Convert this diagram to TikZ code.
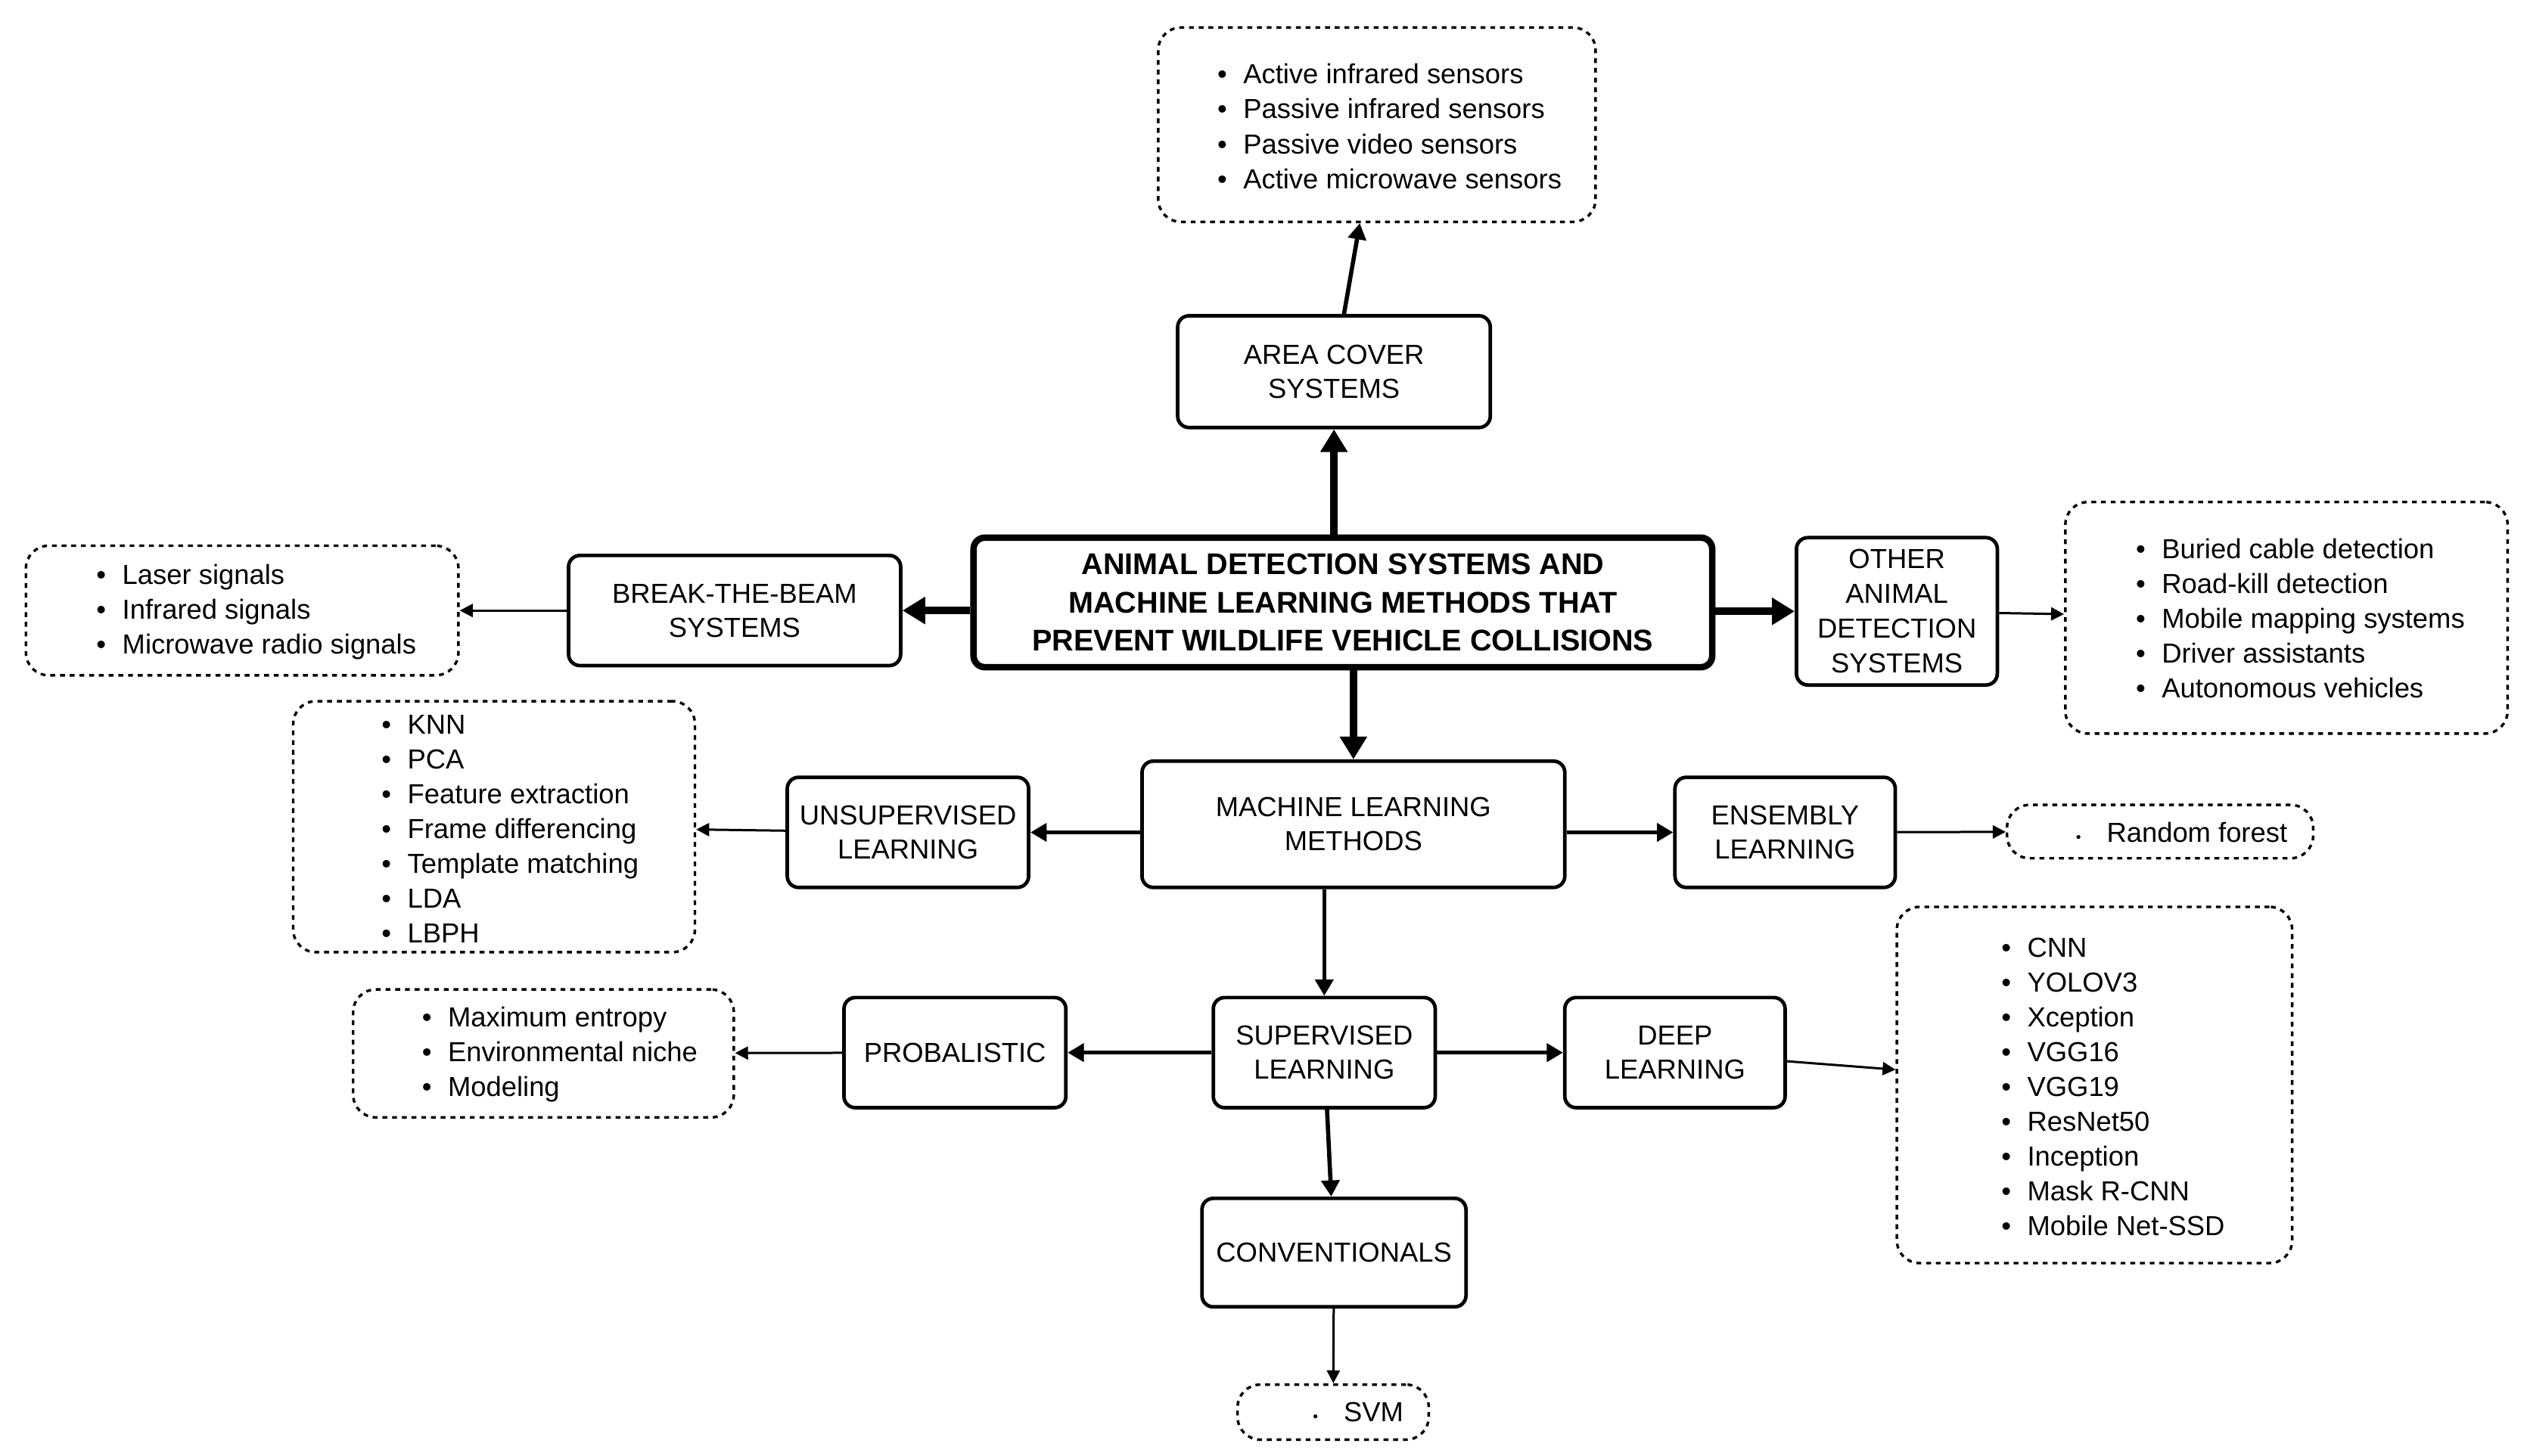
\documentclass[tikz,border=0pt]{standalone}
\usepackage{fontspec}
\setmainfont{Liberation Sans}
\usetikzlibrary{arrows.meta}
\newcommand{\bu}{\makebox[16pt][l]{\textbullet}}
\begin{document}
\begin{tikzpicture}[x=1pt,y=-1pt,
  box/.style={draw,rounded corners=7pt,line width=2.2pt,align=center,font=\fontsize{17}{21}\selectfont,inner sep=0pt},
  lst/.style={draw,dashed,rounded corners=14pt,line width=1.6pt,align=left,font=\fontsize{17}{21.5}\selectfont,inner sep=0pt},
  thick5/.style={line width=4.5pt,-{Triangle[length=14pt,width=16pt]}},
  med/.style={line width=2.6pt,-{Triangle[length=10pt,width=11pt]}},
  thin/.style={line width=1.4pt,-{Triangle[length=8pt,width=8pt]}}]
\useasboundingbox (0,0) rectangle (1560,899);
\newcommand{\bx}[6][box]{\node[#1,minimum width=#4-#2,minimum height=#5-#3] (#6) at ({(#2+#4)/2},{(#3+#5)/2}) {};}
% boxes
\bx{727}{195}{920}{264}{area}\node[font=\fontsize{17}{21}\selectfont,align=center] at (area) {AREA COVER\\SYSTEMS};
\node[box,line width=4pt,minimum width=456,minimum height=80] (c) at (829,372) {};
\node[font=\bfseries\fontsize{18.5}{23.5}\selectfont,align=center] at (c) {ANIMAL DETECTION SYSTEMS AND\\MACHINE LEARNING METHODS THAT\\PREVENT WILDLIFE VEHICLE COLLISIONS};
\bx{351}{343}{556}{411}{btb}\node[font=\fontsize{17}{21}\selectfont,align=center] at (btb) {BREAK-THE-BEAM\\SYSTEMS};
\bx{1109}{332}{1233}{423}{oth}\node[font=\fontsize{17}{21.5}\selectfont,align=center] at (oth) {OTHER\\ANIMAL\\DETECTION\\SYSTEMS};
\bx{705}{470}{966}{548}{ml}\node[font=\fontsize{17}{21}\selectfont,align=center] at (ml) {MACHINE LEARNING\\METHODS};
\bx{486}{480}{635}{548}{uns}\node[font=\fontsize{17}{21}\selectfont,align=center] at (uns) {UNSUPERVISED\\LEARNING};
\bx{1034}{480}{1170}{548}{ens}\node[font=\fontsize{17}{21}\selectfont,align=center] at (ens) {ENSEMBLY\\LEARNING};
\bx{749}{616}{886}{684}{sup}\node[font=\fontsize{17}{21}\selectfont,align=center] at (sup) {SUPERVISED\\LEARNING};
\bx{521}{616}{658}{684}{prob}\node[font=\fontsize{17}{21}\selectfont] at (prob) {PROBALISTIC};
\bx{966}{616}{1102}{684}{deep}\node[font=\fontsize{17}{21}\selectfont,align=center] at (deep) {DEEP\\LEARNING};
\bx{742}{740}{905}{807}{conv}\node[font=\fontsize{17}{21}\selectfont] at (conv) {CONVENTIONALS};
% lists
\bx[lst]{715}{17}{985}{137}{l1}\node[font=\fontsize{17}{21.5}\selectfont,align=left,anchor=west] at (748,78) {\bu Active infrared sensors\\\bu Passive infrared sensors\\\bu Passive video sensors\\\bu Active microwave sensors};
\bx[lst]{16}{337}{283}{417}{l2}\node[font=\fontsize{17}{21.5}\selectfont,align=left,anchor=west] at (56,378) {\bu Laser signals\\\bu Infrared signals\\\bu Microwave radio signals};
\bx[lst]{1275}{310}{1548}{453}{l3}\node[font=\fontsize{17}{21.5}\selectfont,align=left,anchor=west] at (1315,382) {\bu Buried cable detection\\\bu Road-kill detection\\\bu Mobile mapping systems\\\bu Driver assistants\\\bu Autonomous vehicles};
\bx[lst]{181}{433}{429}{588}{l4}\node[font=\fontsize{17}{21.5}\selectfont,align=left,anchor=west] at (232,512) {\bu KNN\\\bu PCA\\\bu Feature extraction\\\bu Frame differencing\\\bu Template matching\\\bu LDA\\\bu LBPH};
\bx[lst]{1239}{497}{1428}{530}{l5}\node[font=\fontsize{17}{21}\selectfont,anchor=west] at (1278,514) {\makebox[19pt][l]{\small\textbullet}Random forest};
\bx[lst]{218}{611}{453}{690}{l6}\node[font=\fontsize{17}{21.5}\selectfont,align=left,anchor=west] at (257,651) {\bu Maximum entropy\\\bu Environmental niche\\\bu Modeling};
\bx[lst]{1171}{560}{1415}{780}{l7}\node[font=\fontsize{17}{21.5}\selectfont,align=left,anchor=west] at (1232,671) {\bu CNN\\\bu YOLOV3\\\bu Xception\\\bu VGG16\\\bu VGG19\\\bu ResNet50\\\bu Inception\\\bu Mask R-CNN\\\bu Mobile Net-SSD};
\bx[lst]{764}{855}{882}{889}{l8}\node[font=\fontsize{17}{21}\selectfont,anchor=west] at (807,872) {\makebox[19pt][l]{\small\textbullet}SVM};
% connectors
\draw[thick5] (c.north -| area) -- (area.south);
\draw[med] (area) -- (l1);
\draw[thick5] (c.west |- btb) -- (btb.east);
\draw[thin] (btb) -- (l2);
\draw[thick5] (c.east |- oth) -- (oth.west);
\draw[thin] (oth) -- (l3);
\draw[thick5] (c.south -| ml) -- (ml.north);
\draw[med] (ml.west |- uns) -- (uns.east);
\draw[thin] (uns) -- (l4);
\draw[med] (ml.east |- ens) -- (ens.west);
\draw[thin] (ens) -- (l5);
\draw[med] (ml.south -| sup) -- (sup.north);
\draw[med] (sup) -- (prob);
\draw[thin] (prob) -- (l6);
\draw[med] (sup) -- (deep);
\draw[thin] (deep) -- (l7);
\draw[med] (sup) -- (conv);
\draw[thin] (conv) -- (l8);
\end{tikzpicture}
\end{document}
